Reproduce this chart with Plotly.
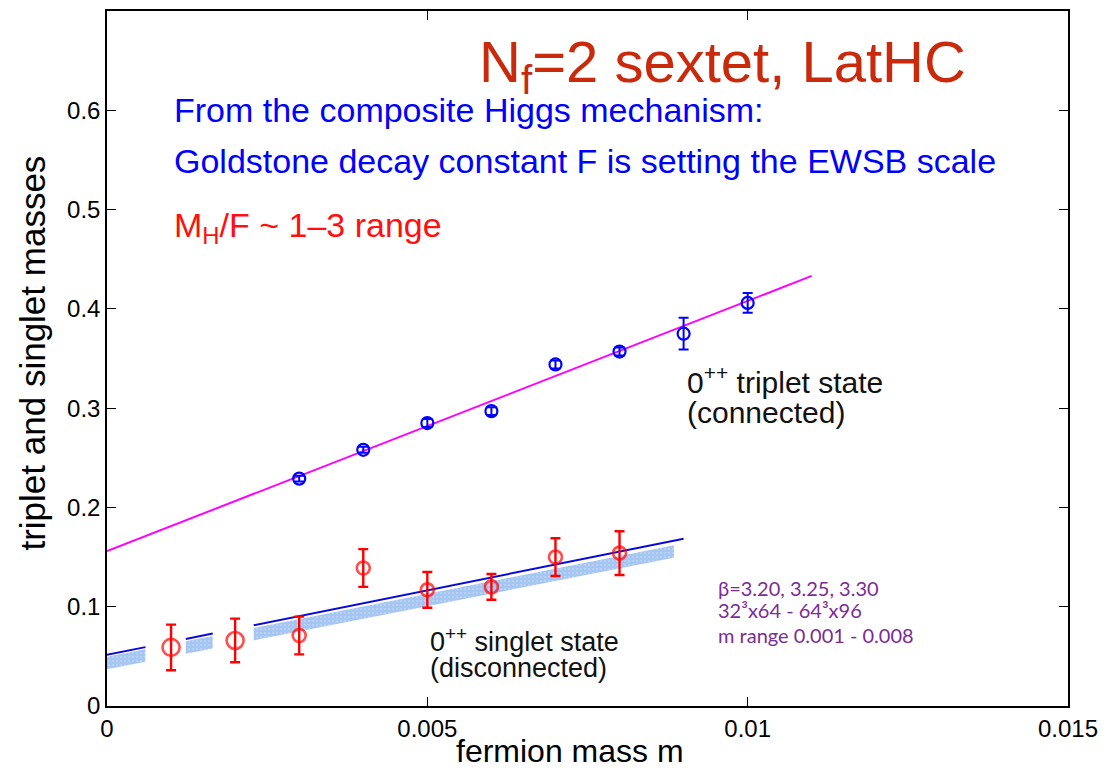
import plotly.graph_objects as go

# --- measured masses --------------------------------------------------------
triplet_m = [0.003, 0.004, 0.005, 0.006, 0.007, 0.008, 0.009, 0.010]
triplet_mass = [0.229, 0.258, 0.285, 0.297, 0.344, 0.357, 0.375, 0.406]
triplet_err = [0.003, 0.003, 0.004, 0.004, 0.004, 0.004, 0.016, 0.010]

singlet_m = [0.001, 0.002, 0.003, 0.004, 0.005, 0.006, 0.007, 0.008]
singlet_mass = [0.059, 0.066, 0.071, 0.139, 0.117, 0.120, 0.150, 0.154]
singlet_err = [0.023, 0.022, 0.019, 0.019, 0.018, 0.013, 0.019, 0.022]
singlet_size = [17, 17, 13, 13, 13, 13, 13, 13]

# --- linear fits: intercept, slope ----------------------------------------
triplet_fit = (0.156, 25.2)
triplet_fit_range = (0.0, 0.011)
singlet_fit = (0.0515, 13.0)
singlet_fit_segments = [(0.0, 0.0006), (0.00123, 0.00165), (0.00229, 0.0090)]
band_upper = (0.0495, 12.7)
band_lower = (0.0370, 12.7)
band_segments = [(-0.00005, 0.0006), (0.00123, 0.00165), (0.00229, 0.00885)]

x_ticks = [0, 0.005, 0.01, 0.015]
x_tick_text = ["0", "0.005", "0.01", "0.015"]
y_ticks = [0, 0.1, 0.2, 0.3, 0.4, 0.5, 0.6]
y_tick_text = ["0", "0.1", "0.2", "0.3", "0.4", "0.5", "0.6"]


def line_y(fit, m):
    return fit[0] + fit[1] * m


fig = go.Figure()

# shaded band under the singlet fit
bx, by = [], []
for a, b in band_segments:
    bx += [a, b, b, a, a, None]
    by += [line_y(band_upper, a), line_y(band_upper, b),
           line_y(band_lower, b), line_y(band_lower, a),
           line_y(band_upper, a), None]
fig.add_trace(go.Scatter(
    x=bx, y=by, mode="lines", fill="toself", line=dict(width=0),
    fillcolor="#a6c6f2",
    fillpattern=dict(shape=".", fgcolor="#d4e4fa", bgcolor="#a6c6f2",
                     size=4, solidity=0.2),
    hoverinfo="skip", showlegend=False))

# singlet fit line (segmented)
sx, sy = [], []
for a, b in singlet_fit_segments:
    sx += [a, b, None]
    sy += [line_y(singlet_fit, a), line_y(singlet_fit, b), None]
fig.add_trace(go.Scatter(x=sx, y=sy, mode="lines",
                         line=dict(color="#0a0ad8", width=2),
                         connectgaps=False, showlegend=False))

# triplet fit line
tx = list(triplet_fit_range)
fig.add_trace(go.Scatter(x=tx, y=[line_y(triplet_fit, v) for v in tx],
                         mode="lines", line=dict(color="#ff00ff", width=2),
                         showlegend=False))

# triplet (connected) data
fig.add_trace(go.Scatter(
    x=triplet_m, y=triplet_mass, mode="markers",
    marker=dict(symbol="circle-open", size=12, color="#0000ff",
                line=dict(width=2.2, color="#0000ff")),
    error_y=dict(type="data", array=triplet_err, color="#0000ff",
                 thickness=2, width=5),
    showlegend=False))

# singlet (disconnected) data
fig.add_trace(go.Scatter(
    x=singlet_m, y=singlet_mass, mode="markers",
    marker=dict(symbol="circle-open", size=singlet_size, color="#ff0000",
                line=dict(width=2.6, color="#ff0000")),
    error_y=dict(type="data", array=singlet_err, color="#ff0000",
                 thickness=2.4, width=5),
    showlegend=False))

font_main = "Liberation Sans, Arial, Helvetica, sans-serif"


def note(x, y, text, size, color, family=font_main):
    fig.add_annotation(x=x, y=y, xref="x", yref="y", text=text,
                       showarrow=False, xanchor="left", yanchor="middle",
                       font=dict(size=size, color=color, family=family))


note(0.00577, 0.645, "N<sub>f</sub>=2 sextet, LatHC", 58, "#c92a0c")
note(0.00101, 0.600, "From the composite Higgs mechanism:", 34, "#0000ff")
note(0.00101, 0.549, "Goldstone decay constant F is setting the EWSB scale", 34, "#0000ff")
note(0.00101, 0.482, "M<sub>H</sub>/F ~ 1\u20133 range", 34, "#ff1010")
note(0.00902, 0.328, "0<sup>++</sup> triplet state", 30, "#111111")
note(0.00902, 0.296, "(connected)", 30, "#111111")
note(0.00501, 0.066, "0<sup>++</sup> singlet state", 27, "#111111")
note(0.00501, 0.038, "(disconnected)", 27, "#111111")

purple_font = "Lato, Noto Sans, sans-serif"
note(0.00951, 0.119, "\u03b2=3.20, 3.25, 3.30", 20, "#7b2c96", purple_font)
note(0.00951, 0.097, "32\u00b3x64 - 64\u00b3x96", 20, "#7b2c96", purple_font)
note(0.00951, 0.072, "m range 0.001 - 0.008", 20, "#7b2c96", purple_font)

# axis titles
fig.add_annotation(x=0.00723, y=0, xref="x", yref="paper", yshift=-45,
                   text="fermion mass m", showarrow=False,
                   xanchor="center", yanchor="middle",
                   font=dict(size=32, color="black", family=font_main))
fig.add_annotation(x=0, y=0.355, xref="paper", yref="y", xshift=-74,
                   text="triplet and singlet masses", showarrow=False,
                   textangle=-90, xanchor="center", yanchor="middle",
                   font=dict(size=35, color="black", family=font_main))

axis_common = dict(showline=True, linecolor="black", linewidth=1.5,
                   mirror="ticks", ticks="inside", ticklen=9,
                   tickcolor="black", tickwidth=1, showgrid=False,
                   zeroline=False,
                   tickfont=dict(size=24, color="black", family=font_main))

fig.update_xaxes(range=[0, 0.015], tickvals=x_ticks, ticktext=x_tick_text,
                 **axis_common)
fig.update_yaxes(range=[0, 0.7], tickvals=y_ticks, ticktext=y_tick_text,
                 **axis_common)

fig.update_layout(
    width=1105, height=770,
    margin=dict(l=107, r=37, t=11, b=64, autoexpand=False),
    paper_bgcolor="white", plot_bgcolor="white",
    showlegend=False,
)

fig.write_html("out.html")
